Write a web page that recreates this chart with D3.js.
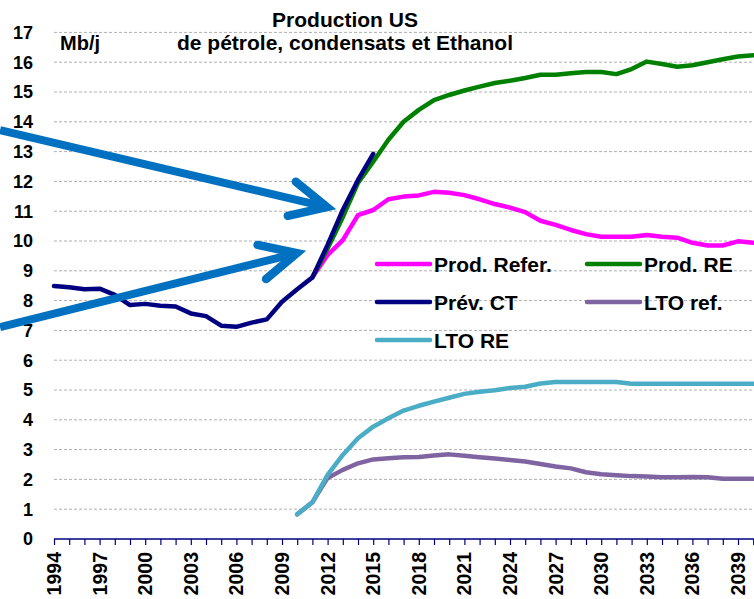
<!DOCTYPE html>
<html>
<head>
<meta charset="utf-8">
<script src="https://cdn.jsdelivr.net/npm/d3@7"></script>
<style>
  html, body { margin: 0; padding: 0; background: #fff; }
  svg { display: block; font-family: "Liberation Sans", Arial, sans-serif; }
</style>
</head>
<body>
<svg id="chart" width="754" height="599"></svg>
<script>
// ---- Data ----
const years = d3.range(1994, 2041);
const yTicks = d3.range(0, 18);
const xTickLabels = d3.range(1994, 2041, 3);

// values by year, null where the series is absent
const prevCT = [8.49, 8.45, 8.38, 8.40, 8.19, 7.85, 7.89, 7.83, 7.80, 7.57, 7.48, 7.16, 7.12, 7.26, 7.37, 7.96, 8.38, 8.78, 9.87, 11.04, 12.05, 12.92];
const prodRefer = [8.78, 9.53, 10.03, 10.87, 11.04, 11.40, 11.49, 11.53, 11.65, 11.62, 11.54, 11.40, 11.24, 11.12, 10.97, 10.68, 10.54, 10.37, 10.23, 10.14, 10.14, 10.14, 10.20, 10.14, 10.11, 9.94, 9.85, 9.85, 9.99, 9.94];
const prodRE = [8.78, 9.75, 10.80, 11.95, 12.66, 13.40, 14.00, 14.40, 14.73, 14.90, 15.05, 15.18, 15.30, 15.38, 15.47, 15.58, 15.58, 15.63, 15.67, 15.67, 15.60, 15.77, 16.02, 15.94, 15.85, 15.90, 16.00, 16.10, 16.19, 16.23];
const ltoRef = [0.83, 1.23, 2.05, 2.32, 2.54, 2.67, 2.71, 2.74, 2.75, 2.80, 2.84, 2.79, 2.74, 2.70, 2.65, 2.60, 2.52, 2.43, 2.37, 2.24, 2.17, 2.14, 2.11, 2.10, 2.07, 2.07, 2.08, 2.07, 2.02, 2.02, 2.02];
const ltoRE = [0.83, 1.23, 2.15, 2.82, 3.38, 3.77, 4.05, 4.31, 4.47, 4.61, 4.74, 4.87, 4.94, 4.99, 5.07, 5.11, 5.22, 5.27, 5.27, 5.27, 5.27, 5.27, 5.21, 5.21, 5.21, 5.21, 5.21, 5.21, 5.21, 5.21, 5.21];

const seriesNames = ["Prod. Refer.", "Prod. RE", "Prév. CT", "LTO ref.", "LTO RE"];
const seriesStart = [2011, 2011, 1994, 2010, 2010];
const seriesValues = [prodRefer, prodRE, prevCT, ltoRef, ltoRE];
const seriesColors = ["#FF00FF", "#008000", "#000080", "#8064A2", "#4BACC6"];

// annotation arrows (data coordinates: year, value)
const arrows = [
  { from: [1990.45, 13.72], to: [2011.95, 11.14] },
  { from: [1990.45, 7.11], to: [2009.97, 9.59] }
];

// ---- Chart ----
const svg = d3.select("#chart");
const x = d3.scaleLinear().domain([1994, 2040]).range([54, 753.2]);
const y = d3.scaleLinear().domain([0, 17]).range([539, 32.4]);

// gridlines
svg.append("g").selectAll("line").data(yTicks.filter(d => d > 0)).join("line")
  .attr("x1", x(1994)).attr("x2", 754)
  .attr("y1", d => y(d)).attr("y2", d => y(d))
  .attr("stroke", "#B0B0B0").attr("stroke-width", 1).attr("stroke-dasharray", "3,2");

// y labels
svg.append("g").selectAll("text").data(yTicks).join("text")
  .attr("x", 33).attr("y", d => y(d)).attr("dy", "0.36em")
  .attr("text-anchor", "end").attr("font-size", 18).attr("font-weight", "bold")
  .attr("fill", "#000").text(d => d);

// x axis
const xAxis = d3.axisBottom(x).tickValues(years).tickSize(6).tickFormat("");
const gx = svg.append("g").attr("transform", `translate(0,${y(0)})`).call(xAxis);
gx.select(".domain").attr("stroke", "#000080").attr("stroke-width", 1.5).attr("d", `M${x(1994)},0H754`);
gx.selectAll(".tick line").attr("stroke", "#000080").attr("stroke-width", 1.2);

svg.append("g").selectAll("text").data(xTickLabels).join("text")
  .attr("transform", d => `translate(${x(d)},552) rotate(-90)`)
  .attr("dy", "0.36em").attr("text-anchor", "end")
  .attr("font-size", 19.5).attr("font-weight", "bold").attr("fill", "#000")
  .text(d => d);

// lines
const line = d3.line().x(d => x(d[0])).y(d => y(d[1]));
seriesValues.forEach((vals, i) => {
  const pts = vals.map((v, j) => [seriesStart[i] + j, v]);
  svg.append("path").datum(pts)
    .attr("d", line).attr("fill", "none")
    .attr("stroke", seriesColors[i]).attr("stroke-width", 4.5)
    .attr("stroke-linejoin", "round").attr("stroke-linecap", "round");
});

// legend
const legendPos = [[377, 264], [587, 264], [377, 302], [587, 302], [377, 340]];
const lg = svg.append("g");
seriesNames.forEach((name, i) => {
  const [lx, ly] = legendPos[i];
  lg.append("line").attr("x1", lx).attr("x2", lx + 53).attr("y1", ly).attr("y2", ly)
    .attr("stroke", seriesColors[i]).attr("stroke-width", 4.5).attr("stroke-linecap", "round");
  lg.append("text").attr("x", lx + 57).attr("y", ly + 7.5)
    .attr("font-size", 21).attr("font-weight", "bold").attr("fill", "#000").text(name);
});

// title
svg.append("text").attr("x", 345).attr("y", 27).attr("text-anchor", "middle")
  .attr("font-size", 21).attr("font-weight", "bold").text("Production US");
svg.append("text").attr("x", 345).attr("y", 50).attr("text-anchor", "middle")
  .attr("font-size", 21).attr("font-weight", "bold").text("de pétrole, condensats et Ethanol");
svg.append("text").attr("x", 60).attr("y", 50)
  .attr("font-size", 20).attr("font-weight", "bold").text("Mb/j");

// arrows
const ag = svg.append("g");
arrows.forEach(a => {
  const x0 = x(a.from[0]), y0 = y(a.from[1]);
  const x1 = x(a.to[0]), y1 = y(a.to[1]);
  const ang = Math.atan2(y0 - y1, x0 - x1);
  const L = 40, spread = 26 * Math.PI / 180;
  const w1 = [x1 + L * Math.cos(ang - spread), y1 + L * Math.sin(ang - spread)];
  const w2 = [x1 + L * Math.cos(ang + spread), y1 + L * Math.sin(ang + spread)];
  ag.append("path")
    .attr("d", `M${x0},${y0}L${x1 + 3 * Math.cos(ang)},${y1 + 3 * Math.sin(ang)}`)
    .attr("stroke", "#0070C0").attr("stroke-width", 8).attr("fill", "none");
  ag.append("path")
    .attr("d", `M${w1[0]},${w1[1]}L${x1},${y1}L${w2[0]},${w2[1]}`)
    .attr("stroke", "#0070C0").attr("stroke-width", 8.5).attr("fill", "none")
    .attr("stroke-linejoin", "miter").attr("stroke-linecap", "round");
});
</script>
</body>
</html>
